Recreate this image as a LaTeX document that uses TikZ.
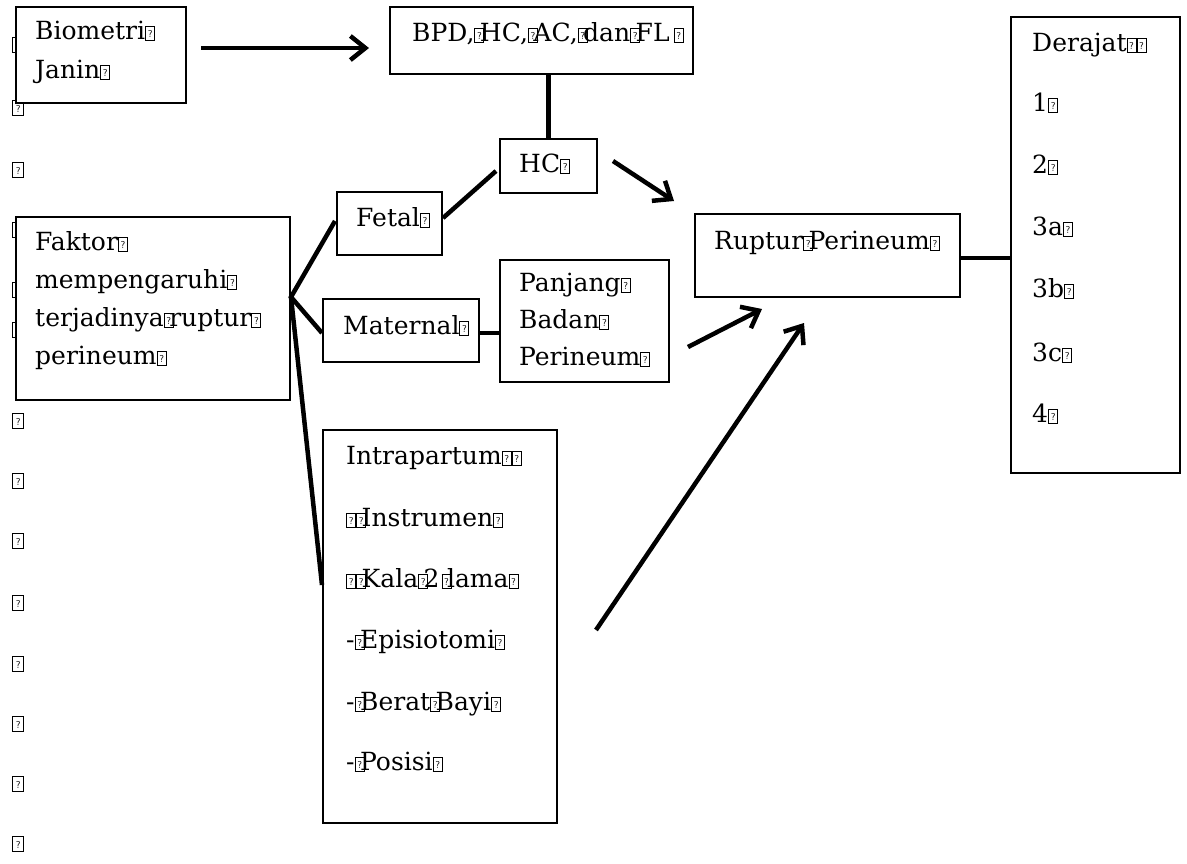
\documentclass[tikz,border=0pt]{standalone}
\usepackage{fontspec}
\setmainfont{DejaVu Serif}
\usetikzlibrary{arrows.meta}
\newcommand\tofubox[3]{%
  \begingroup\setlength{\fboxsep}{0pt}\setlength{\fboxrule}{1pt}%
  \fbox{\makebox[#1]{\rule{0pt}{#2}\raisebox{#3}{\fontsize{10}{10}\selectfont\sffamily ?}}}\endgroup}
\newcommand\tq{\raisebox{-1pt}{\tofubox{8pt}{13pt}{2.5pt}}}
\newcommand\tk{\makebox[5.5pt][l]{\tq}}
\tikzset{
  bx/.style={draw,line width=2pt,fill=white,inner sep=0pt},
  txt/.style={inner sep=0pt,anchor=base west,font=\fontsize{25}{28}\selectfont},
  lt/.style={inner sep=0pt,anchor=north west},
  ln/.style={line width=4.5pt},
  arr/.style={line width=4.5pt,-{Straight Barb[length=15pt,width=24pt]}}
}
\begin{document}
\begin{tikzpicture}[x=1pt,y=-1pt]
\useasboundingbox[fill=white] (0,0) rectangle (1187,863);
% left column of paragraph marks
\foreach \t [count=\i] in {37,100,162,222,282,322,413,473,533,595,656,716,776,836}
  \node[lt] (lt\i) at (12,\t) {\tofubox{10pt}{14pt}{3pt}};
% boxes
\node[bx,minimum width=170pt,minimum height=96pt]  (bio)   at (101,55) {};
\node[bx,minimum width=303pt,minimum height=67pt]  (bpd)   at (541.5,40.5) {};
\node[bx,minimum width=97pt,minimum height=54pt]   (hc)    at (548.5,166) {};
\node[bx,minimum width=105pt,minimum height=63pt]  (fetal) at (389.5,223.5) {};
\node[bx,minimum width=274pt,minimum height=183pt] (fak)   at (153,308.5) {};
\node[bx,minimum width=156pt,minimum height=63pt]  (mat)   at (401,330.5) {};
\node[bx,minimum width=169pt,minimum height=122pt] (pan)   at (584.5,321) {};
\node[bx,minimum width=265pt,minimum height=83pt]  (rup)   at (827.5,255.5) {};
\node[bx,minimum width=169pt,minimum height=456pt] (der)   at (1095.5,245) {};
\node[bx,minimum width=234pt,minimum height=393pt] (intra) at (440,626.5) {};
% texts
\node[txt] (bio1) at (35,39) {Biometri\tq};
\node[txt] (bio2) at (35,78) {Janin\tq};
\node[txt] (bpdt) at (412,41) {BPD,\tk HC,\tk AC,\tk dan\tk FL\,\tq};
\node[txt] (hct) at (519,172) {HC\tq};
\node[txt] (fett) at (356,226) {Fetal\tq};
\node[txt] (fak1) at (35,250) {Faktor\tq};
\node[txt] (fak2) at (35,288) {mempengaruhi\tq};
\node[txt] (fak3) at (35,326) {terjadinya\tk ruptur\tq};
\node[txt] (fak4) at (35,364) {perineum\tq};
\node[txt] (matt) at (343,334) {Maternal\tq};
\node[txt] (pan1) at (519,291) {Panjang\tq};
\node[txt] (pan2) at (519,328) {Badan\tq};
\node[txt] (pan3) at (519,365) {Perineum\tq};
\node[txt] (rupt) at (714,249) {Ruptur\tk Perineum\tq};
\node[txt] (der0) at (1032,51) {Derajat\tq\tq};
\node[txt] (der1) at (1032,111) {1\tq};
\node[txt] (der2) at (1032,173) {2\tq};
\node[txt] (der3) at (1032,235) {3a\tq};
\node[txt] (der4) at (1032,297) {3b\tq};
\node[txt] (der5) at (1032,361) {3c\tq};
\node[txt] (der6) at (1032,422) {4\tq};
\node[txt] (in0) at (346,464) {Intrapartum\tq\tq};
\node[txt] (in1) at (346,526) {\tq\tk Instrumen\tq};
\node[txt] (in2) at (346,587) {\tq\tk Kala\tk 2\hspace{2pt}\tk lama\tq};
\node[txt] (in3) at (346,648) {-\tk Episiotomi\tq};
\node[txt] (in4) at (346,710) {-\tk Berat\tk Bayi\tq};
\node[txt] (in5) at (346,770) {-\tk Posisi\tq};
% connectors
\coordinate (fk) at ([yshift=11.5pt]fak.east);
\draw[ln] ([xshift=-1pt,yshift=2.5pt]fetal.west) -- (fk) -- ([yshift=-2.5pt]mat.west);
\draw[ln] (fk) -- ([yshift=41.5pt]intra.west);
\draw[ln] ([xshift=-3pt,yshift=-5pt]hc.west) -- ([yshift=5.5pt]fetal.east);
\draw[ln] (bpd.south -| hc.north) -- (hc.north);
\draw[ln] ([yshift=-2.5pt]mat.east) -- ([yshift=-2.5pt]mat.east -| pan.west);
\draw[ln] ([yshift=-2.5pt]rup.east) -- ([yshift=-2.5pt]rup.east -| der.west);
\draw[arr] ([xshift=14pt,yshift=7pt]bio.east) -- ([xshift=-20pt,yshift=-7.5pt]bpd.west);
\draw[arr] ([xshift=15pt,yshift=5pt]hc.east) -- ([xshift=-20pt,yshift=12pt]rup.north west);
\draw[arr] ([xshift=18pt,yshift=-26pt]pan.east) -- ([xshift=68pt,yshift=-11pt]rup.south west);
\draw[arr] ([xshift=38pt,yshift=-3.5pt]intra.east) -- ([xshift=110pt,yshift=-25pt]rup.south west);
\end{tikzpicture}
\end{document}
